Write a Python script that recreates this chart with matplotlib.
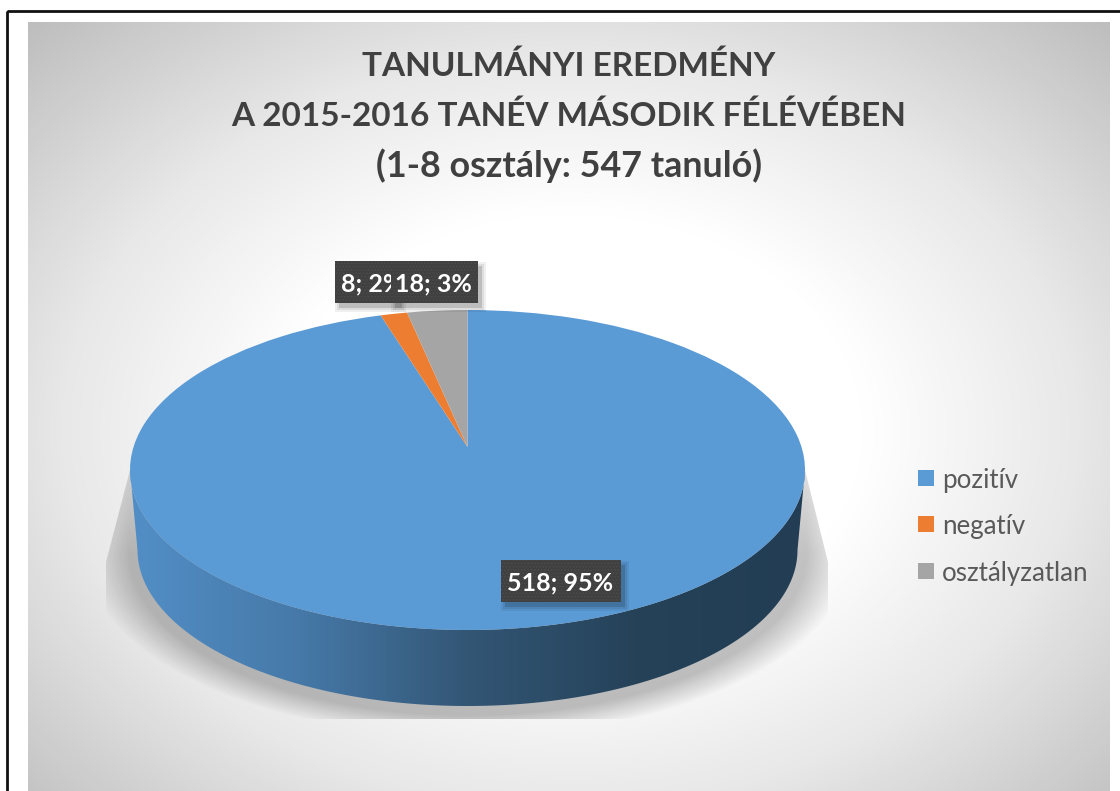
#tanulmanyi eredmeny, 3d looking pie
import numpy as np
import matplotlib
matplotlib.use('Agg')
import matplotlib.pyplot as plt
from matplotlib.patches import PathPatch, Polygon, Rectangle
from matplotlib.path import Path
from matplotlib.colors import LinearSegmentedColormap

plt.rcParams['font.family'] = ['Lato', 'DejaVu Sans']
plt.rcParams['hatch.linewidth'] = 0.8

title_lines = ["TANULMÁNYI EREDMÉNY", "A 2015-2016 TANÉV MÁSODIK FÉLÉVÉBEN", "(1-8 osztály: 547 tanuló)"]
categories = ["pozitív", "negatív", "osztályzatlan"]
values = [518, 8, 18]
percents = [95, 2, 3]
colors = ['#5b9bd5', '#ed7d31', '#a5a5a5']

W, H = 1120, 791
CX, APEX_Y = 467.5, 447
A, B, K = 334.0, 156.7, 0.14375

#tilt the unit circle so the centre sits above the middle of the ellipse
def persp(verts):
    u, v = verts[:, 0], verts[:, 1]
    d = 1 + K * v
    return np.column_stack([CX + A * u / d, APEX_Y - B * v / d])

fig = plt.figure(figsize=(W / 100, H / 100), dpi=100)
ax = fig.add_axes([0, 0, 1, 1])
wedges, _ = ax.pie(values, colors=colors, startangle=90, counterclock=False)
ax.set_aspect('auto')
ax.set_xlim(0, W)
ax.set_ylim(H, 0)
ax.axis('off')

#panel background
xx, yy = np.meshgrid(np.arange(W), np.arange(H))
r = np.sqrt(((xx - 570) / 770.0) ** 2 + ((yy - 430) / 570.0) ** 2)
bg_cmap = LinearSegmentedColormap.from_list('bg', [(0, '#ffffff'), (0.38, '#ffffff'), (0.66, '#e8e8e8'), (1, '#bebebe')])
panel = Rectangle((28, 22), 1082, 769, fc='none', ec='none')
ax.add_patch(panel)
im = ax.imshow(np.clip(r, 0, 1), cmap=bg_cmap, vmin=0, vmax=1, extent=(0, W, H, 0), aspect='auto', zorder=0.5)
im.set_clip_path(panel)

#soft shadow under the disc
shadow_clip = Polygon([(130, 470), (106, 562), (106, 719), (828, 719), (828, 562), (805, 470)], fc='none', ec='none')
ax.add_patch(shadow_clip)
dy = np.maximum(yy - 552, 0)
d = np.sqrt(((xx - CX) / 376.0) ** 2 + (dy / 181.0) ** 2)
ramp = 0.13 + 0.11 * np.clip((yy - 470) / 82.0, 0, 1)
alpha = np.clip((1.02 - d) / 0.12, 0, 1) * ramp
shadow = np.zeros((H, W, 4))
shadow[..., 3] = alpha
im2 = ax.imshow(shadow, extent=(0, W, H, 0), aspect='auto', zorder=1)
im2.set_clip_path(shadow_clip)

#side wall, lower half of top ellipse joined to the smaller bottom ellipse
t = np.linspace(0, np.pi, 200)
bottom_x = CX + 330 * np.cos(t)
bottom_y = 550 + 156 * np.sin(t)
top_x = CX + 337.5 * np.cos(t[::-1])
top_y = 470 + 160 * np.sin(t[::-1])
wall = Polygon(np.column_stack([np.r_[bottom_x, top_x], np.r_[bottom_y, top_y]]), fc='none', ec='none')
ax.add_patch(wall)
wall_cmap = LinearSegmentedColormap.from_list('wall', [(0, '#528ec6'), (0.25, '#4679a8'), (0.5, '#335675'), (0.75, '#254259'), (1, '#223d54')])
im3 = ax.imshow(np.linspace(0, 1, 400).reshape(1, -1), cmap=wall_cmap, extent=(130, 805, 720, 460), aspect='auto', zorder=2)
im3.set_clip_path(wall)
ax.set_xlim(0, W)
ax.set_ylim(H, 0)

#top face from the pie wedges
for w in wedges:
    p = w.get_path()
    ax.add_patch(PathPatch(Path(persp(p.vertices), p.codes), fc=w.get_facecolor(), ec='none', zorder=3))
    w.remove()

#labels
def label(x0, x1, y0, y1, txt, tx, z):
    for grow, a in [(4, 0.06), (2, 0.08), (0, 0.14)]:
        ax.add_patch(Rectangle((x0 + 4 - grow, y0 + 5 - grow), x1 - x0 + 2 * grow, y1 - y0 + 2 * grow, fc='#000000', alpha=a, ec='none', zorder=z))
    ax.add_patch(Rectangle((x0, y0), x1 - x0, y1 - y0, fc='#404040', ec='#4b4b4b', hatch='.....', lw=0, zorder=z + 0.1))
    return ax.text(tx, (y0 + y1) / 2, txt, color='white', fontsize=18, fontweight='bold', ha='center', va='center_baseline', zorder=z + 0.2)

t1 = label(335, 398, 261, 303, "%d; %d%%" % (values[1], percents[1]), 372, 4)
t1.set_clip_path(Rectangle((335, 261), 52, 42, transform=ax.transData))
label(391, 478, 261, 303, "%d; %d%%" % (values[2], percents[2]), 433, 5)
label(501, 621, 560, 602, "%d; %d%%" % (values[0], percents[0]), 560, 6)

#title
for s, y, fs in zip(title_lines, [63, 113, 163], [24, 24, 25.8]):
    ax.text(569, y, s, color='#404040', fontsize=fs, fontweight='bold', ha='center', va='center_baseline', zorder=7)

#legend
for c, s, y in zip(colors, categories, [478, 524, 571]):
    ax.add_patch(Rectangle((918, y - 8), 16, 16, fc=c, ec='none', zorder=7))
    ax.text(942, y, s, color='#595959', fontsize=18.6, ha='left', va='center_baseline', zorder=7)

#black frame, only top and left are inside the picture
ax.add_patch(Rectangle((7, 11), 1300, 1000, fc='none', ec='#111111', lw=2, zorder=8, clip_on=True))

fig.savefig('out.png', dpi=100)
